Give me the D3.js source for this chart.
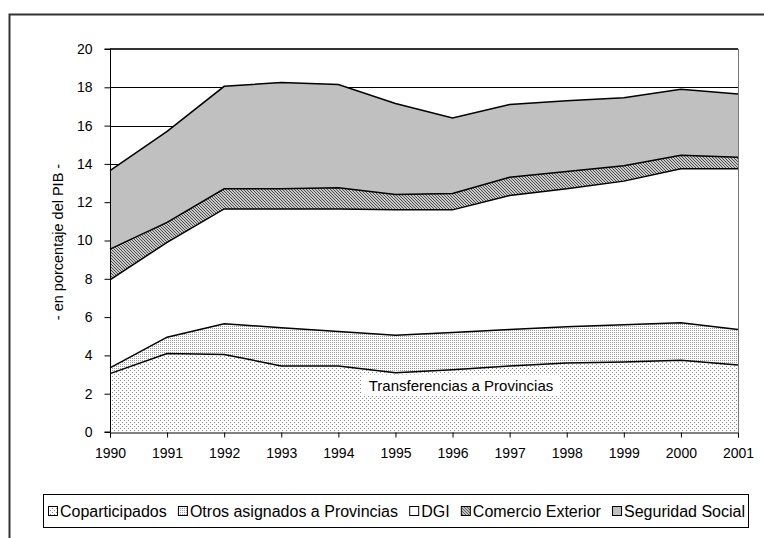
<!DOCTYPE html>
<html>
<head>
<meta charset="utf-8">
<script src="https://cdn.jsdelivr.net/npm/d3@7"></script>
<style>
  body { margin: 0; background: #fff; }
  svg { display: block; font-family: "Liberation Sans", Arial, sans-serif; }
</style>
</head>
<body>
<div class="chart-container"></div>
<script>
const width = 764;
const height = 538;

// data, in % of GDP
const years = [1990, 1991, 1992, 1993, 1994, 1995, 1996, 1997, 1998, 1999, 2000, 2001];
const coparticipados = [3.05, 4.1, 4.05, 3.45, 3.45, 3.1, 3.25, 3.45, 3.6, 3.65, 3.75, 3.5];
const otrosAsignados = [0.3, 0.85, 1.6, 2.0, 1.8, 1.95, 1.95, 1.9, 1.9, 1.95, 1.95, 1.85];
const dgi = [4.6, 4.95, 6.0, 6.2, 6.4, 6.55, 6.4, 7.0, 7.2, 7.5, 8.05, 8.4];
const comercioExterior = [1.6, 1.05, 1.05, 1.05, 1.1, 0.8, 0.85, 0.95, 0.9, 0.8, 0.7, 0.6];
const seguridadSocial = [4.1, 4.75, 5.35, 5.55, 5.4, 4.75, 3.95, 3.8, 3.7, 3.55, 3.45, 3.3];
const seriesNames = ['Coparticipados', 'Otros asignados a Provincias', 'DGI', 'Comercio Exterior', 'Seguridad Social'];
const yTicks = [0, 2, 4, 6, 8, 10, 12, 14, 16, 18, 20];

const seriesKeys = ['copa', 'otros', 'dgi', 'comercio', 'seguridad'];
const fills = ['url(#pat-copa)', 'url(#pat-otros)', '#ffffff', 'url(#pat-comercio)', '#c0c0c0'];

let rows = years.map((y, i) => {
  return {
    year: y,
    copa: coparticipados[i],
    otros: otrosAsignados[i],
    dgi: dgi[i],
    comercio: comercioExterior[i],
    seguridad: seguridadSocial[i]
  };
});

const svg = d3.select('.chart-container').append('svg')
  .attr('width', width)
  .attr('height', height);

// patterns
const defs = svg.append('defs');
let pCopa = defs.append('pattern').attr('id', 'pat-copa')
  .attr('patternUnits', 'userSpaceOnUse').attr('width', 4).attr('height', 4);
pCopa.append('rect').attr('width', 4).attr('height', 4).attr('fill', '#fff');
pCopa.append('rect').attr('x', 0).attr('y', 0).attr('width', 1).attr('height', 1).attr('fill', '#888');
pCopa.append('rect').attr('x', 2).attr('y', 2).attr('width', 1).attr('height', 1).attr('fill', '#888');

let pOtros = defs.append('pattern').attr('id', 'pat-otros')
  .attr('patternUnits', 'userSpaceOnUse').attr('width', 2).attr('height', 2);
pOtros.append('rect').attr('width', 2).attr('height', 2).attr('fill', '#fff');
pOtros.append('rect').attr('x', 0).attr('y', 0).attr('width', 1).attr('height', 1).attr('fill', '#999');

let pCom = defs.append('pattern').attr('id', 'pat-comercio')
  .attr('patternUnits', 'userSpaceOnUse').attr('width', 3).attr('height', 3);
pCom.append('rect').attr('width', 3).attr('height', 3).attr('fill', '#fff');
pCom.append('path').attr('d', 'M-1,-1 L4,4 M-1,2 L1,4 M2,-1 L4,1')
  .attr('stroke', '#444').attr('stroke-width', 1.1);

// outer chart frame (cut by the window on the right and bottom)
svg.append('path')
  .attr('d', 'M9.5,' + (height + 5) + ' L9.5,14.5 L' + (width + 5) + ',14.5')
  .attr('fill', 'none').attr('stroke', '#333').attr('stroke-width', 2);

const margin = { left: 110, right: 738, top: 49, bottom: 432 };

const scaleX = d3.scaleLinear()
  .domain(d3.extent(years))
  .range([margin.left, margin.right]);
const scaleY = d3.scaleLinear()
  .domain([0, 20])
  .range([margin.bottom, margin.top]);

// gridlines behind the areas
svg.append('g').selectAll('line')
  .data(yTicks.filter((t) => { return t > 0 && t < 20; }))
  .join('line')
  .attr('x1', margin.left).attr('x2', margin.right)
  .attr('y1', (d) => { return Math.round(scaleY(d)) + 0.5; })
  .attr('y2', (d) => { return Math.round(scaleY(d)) + 0.5; })
  .attr('stroke', '#000').attr('stroke-width', 1);

const stacked = d3.stack().keys(seriesKeys)(rows);

const generatorArea = d3.area()
  .x((d) => { return scaleX(d.data.year); })
  .y0((d) => { return scaleY(d[0]); })
  .y1((d) => { return scaleY(d[1]); });
const generatorLine = d3.line()
  .x((d) => { return scaleX(d.data.year); })
  .y((d) => { return scaleY(d[1]); });

svg.append('g').selectAll('path')
  .data(stacked)
  .join('path')
  .attr('d', generatorArea)
  .attr('fill', (d, i) => { return fills[i]; });

svg.append('g').selectAll('path')
  .data(stacked)
  .join('path')
  .attr('d', generatorLine)
  .attr('fill', 'none')
  .attr('stroke', '#000')
  .attr('stroke-width', 1.5);

// plot border: top and right
svg.append('line')
  .attr('x1', margin.left).attr('x2', margin.right)
  .attr('y1', scaleY(20)).attr('y2', scaleY(20))
  .attr('stroke', '#333').attr('stroke-width', 2);
svg.append('line')
  .attr('x1', margin.right + 0.5).attr('x2', margin.right + 0.5)
  .attr('y1', scaleY(20)).attr('y2', scaleY(0))
  .attr('stroke', '#777').attr('stroke-width', 1);

// axes
const axisY = d3.axisLeft(scaleY).tickValues(yTicks).tickSize(6).tickPadding(12).tickFormat(d3.format('d'));
const gy = svg.append('g').attr('transform', 'translate(' + (margin.left + 0.5) + ',0)').call(axisY);
const axisX = d3.axisBottom(scaleX).tickValues(years).tickSize(5).tickPadding(11).tickFormat(d3.format('d'));
const gx = svg.append('g').attr('transform', 'translate(0,' + (margin.bottom + 0.5) + ')').call(axisX);
[gy, gx].forEach((g) => {
  g.selectAll('.domain').attr('stroke', '#000');
  g.selectAll('.tick line').attr('stroke', '#000');
  g.selectAll('.tick text').attr('font-size', 14).attr('fill', '#000')
    .attr('font-family', '"Liberation Sans", Arial, sans-serif');
});
gy.select('.domain').attr('d', 'M-6,' + scaleY(20) + 'H0V' + scaleY(0) + 'H-6');

// axis title
svg.append('text')
  .attr('transform', 'translate(63,242) rotate(-90)')
  .attr('text-anchor', 'middle')
  .attr('font-size', 14.5)
  .text('- en porcentaje del PIB -');

// annotation with white box
const noteG = svg.append('g').attr('transform', 'translate(461,385)');
const note = noteG.append('text')
  .attr('text-anchor', 'middle')
  .attr('dominant-baseline', 'central')
  .attr('font-size', 15)
  .text('Transferencias a Provincias');
const nb = note.node().getBBox();
noteG.insert('rect', 'text')
  .attr('x', nb.x - 7).attr('y', nb.y - 2)
  .attr('width', nb.width + 14).attr('height', nb.height + 4)
  .attr('fill', '#fff');

// legend
const legendBox = { x: 43.5, y: 494.5, w: 705, h: 33 };
svg.append('rect')
  .attr('x', legendBox.x).attr('y', legendBox.y)
  .attr('width', legendBox.w).attr('height', legendBox.h)
  .attr('fill', '#fff').attr('stroke', '#000').attr('stroke-width', 1);

const legendG = svg.append('g');
let items = seriesNames.map((name, i) => {
  let g = legendG.append('g');
  g.append('rect')
    .attr('x', 0.5).attr('y', 506.5)
    .attr('width', 9).attr('height', 9)
    .attr('fill', fills[i]).attr('stroke', '#000').attr('stroke-width', 1);
  let t = g.append('text')
    .attr('x', 12).attr('y', 517)
    .attr('font-size', 16)
    .text(name);
  return { g: g, w: 12 + t.node().getComputedTextLength() };
});
// spread the items over the legend box
const legendStart = 48;
const legendEnd = 745;
const gap = (legendEnd - legendStart - d3.sum(items, (d) => { return d.w; })) / (items.length - 1);
let lx = legendStart;
items.forEach((it) => {
  it.g.attr('transform', 'translate(' + lx + ',0)');
  lx += it.w + gap;
});
</script>
</body>
</html>
